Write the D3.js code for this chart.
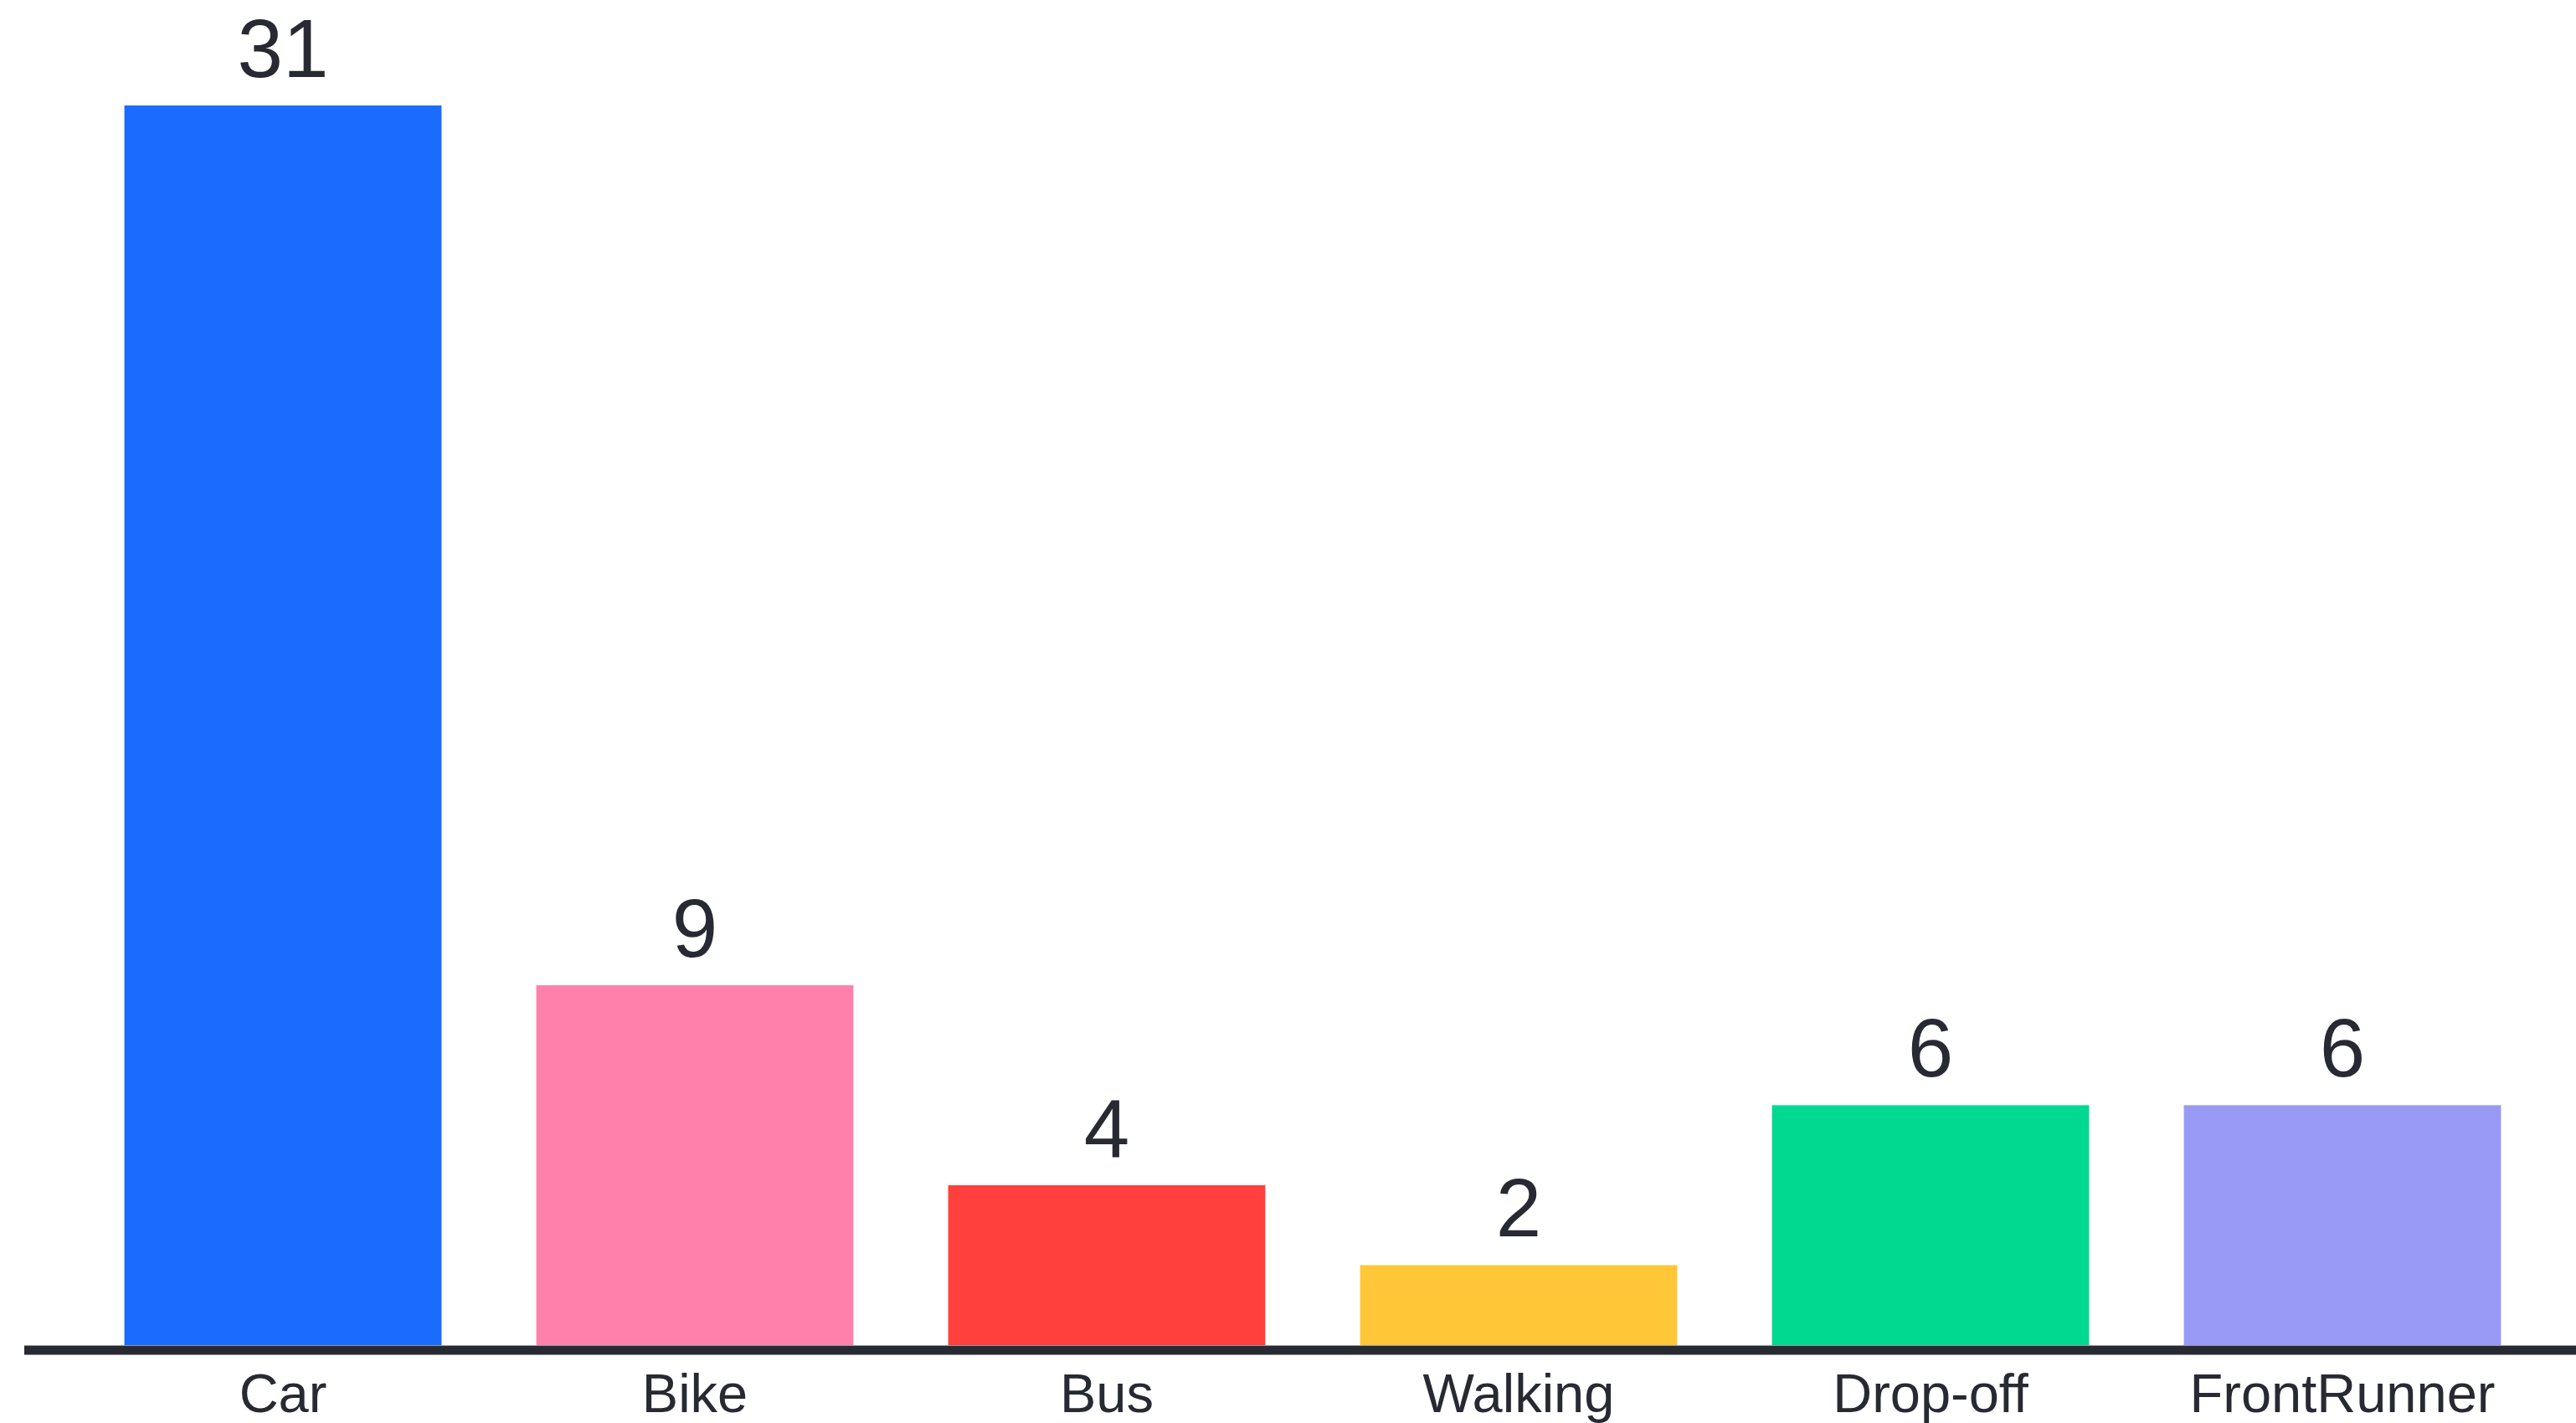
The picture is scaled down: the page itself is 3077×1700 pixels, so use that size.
<!DOCTYPE html>
<html>
<head>
<meta charset="utf-8">
<script src="https://cdn.jsdelivr.net/npm/d3@7"></script>
<style>
  html, body { margin: 0; padding: 0; background: #ffffff; }
  svg { display: block; }
</style>
</head>
<body>
<svg id="chart" width="3077" height="1700"></svg>
<script>
const categories = ["Car", "Bike", "Bus", "Walking", "Drop-off", "FrontRunner"];
const values = [31, 9, 4, 2, 6, 6];
const colors = ["#1C6BFF", "#FF80AB", "#FF403D", "#FFC638", "#00D98F", "#999AF5"];

const W = 3077, H = 1700;
const baseY = 1607;
const topY = 126;
const svg = d3.select("#chart");

const x = d3.scaleBand()
  .domain(categories)
  .range([92, 3044])
  .paddingInner(0.23)
  .paddingOuter(0.115);

const y = d3.scaleLinear()
  .domain([0, d3.max(values)])
  .range([baseY, topY]);

const data = categories.map((c, i) => ({ c, v: values[i], col: colors[i] }));

svg.append("g").selectAll("rect")
  .data(data)
  .join("rect")
  .attr("x", d => x(d.c))
  .attr("y", d => y(d.v))
  .attr("width", x.bandwidth())
  .attr("height", d => y(0) - y(d.v))
  .attr("fill", d => d.col);

svg.append("g").selectAll("text")
  .data(data)
  .join("text")
  .attr("x", d => x(d.c) + x.bandwidth() / 2)
  .attr("y", d => y(d.v) - 34)
  .attr("text-anchor", "middle")
  .attr("font-family", "Liberation Sans, Arial, sans-serif")
  .attr("font-size", 98)
  .attr("fill", "#272A32")
  .text(d => d.v);

// x axis baseline
const axis = d3.axisBottom(x).tickSize(0).tickPadding(0);
const gx = svg.append("g").attr("transform", `translate(0,${baseY})`).call(axis);
gx.select(".domain").remove();
gx.append("line")
  .attr("x1", 29).attr("x2", W)
  .attr("y1", 6).attr("y2", 6)
  .attr("stroke", "#272A32")
  .attr("stroke-width", 11);
gx.selectAll(".tick text")
  .attr("y", 80)
  .attr("dy", 0)
  .attr("font-family", "Liberation Sans, Arial, sans-serif")
  .attr("font-size", 65)
  .attr("fill", "#272A32");
</script>
</body>
</html>
